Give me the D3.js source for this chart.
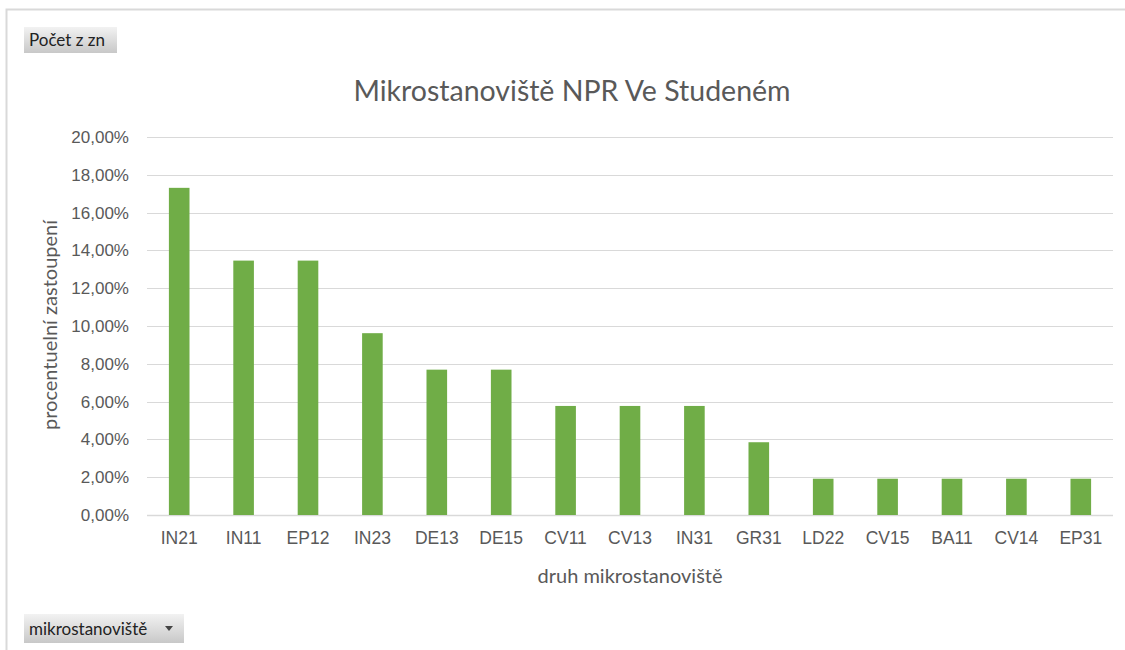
<!DOCTYPE html>
<html>
<head>
<meta charset="utf-8">
<script src="https://cdn.jsdelivr.net/npm/d3@7"></script>
<style>
  body { margin: 0; background: #fff; }
  svg { display: block; font-family: Lato, "Open Sans", sans-serif; }
</style>
</head>
<body>
<svg id="drawing_region"></svg>
<script>
// data
const categories = ["IN21", "IN11", "EP12", "IN23", "DE13", "DE15", "CV11", "CV13", "IN31", "GR31", "LD22", "CV15", "BA11", "CV14", "EP31"];
const values = [17.31, 13.46, 13.46, 9.62, 7.69, 7.69, 5.77, 5.77, 5.77, 3.85, 1.92, 1.92, 1.92, 1.92, 1.92];
const yTicks = [0, 2, 4, 6, 8, 10, 12, 14, 16, 18, 20];

const width = 1125, height = 650;
const margin = { top: 137, right: 12, bottom: 135, left: 147 };
const innerW = width - margin.left - margin.right;
const innerH = height - margin.top - margin.bottom;

const svg = d3.select('#drawing_region')
    .attr('width', width)
    .attr('height', height);

// chart frame
svg.append('path')
    .attr('d', 'M6.5,650 L6.5,9.5 L1125,9.5')
    .attr('fill', 'none')
    .attr('stroke', '#d9d9d9')
    .attr('stroke-width', 2);

// button gradient
const grad = svg.append('defs').append('linearGradient')
    .attr('id', 'btn').attr('x1', 0).attr('y1', 0).attr('x2', 0).attr('y2', 1);
grad.append('stop').attr('offset', '0%').attr('stop-color', '#f2f2f2');
grad.append('stop').attr('offset', '100%').attr('stop-color', '#c8c8c8');

const chart = svg.append('g')
    .attr('transform', `translate(${margin.left}, ${margin.top})`);

const xscale = d3.scaleBand()
    .domain(categories)
    .range([0, innerW])
    .paddingInner(0.68)
    .paddingOuter(0.34);

const yscale = d3.scaleLinear()
    .domain([0, 20])
    .range([innerH, 0]);

// gridlines
chart.append('g')
    .selectAll('line')
    .data(yTicks)
    .join('line')
    .attr('x1', 0)
    .attr('x2', innerW)
    .attr('y1', d => Math.round(yscale(d)) + 0.5)
    .attr('y2', d => Math.round(yscale(d)) + 0.5)
    .attr('stroke', '#d9d9d9')
    .attr('stroke-width', d => d === 0 ? 1.5 : 1);

// bars
chart.selectAll('rect.bar')
    .data(values)
    .join('rect')
    .attr('class', 'bar')
    .attr('x', (d, i) => xscale(categories[i]))
    .attr('y', d => yscale(d))
    .attr('width', xscale.bandwidth())
    .attr('height', d => innerH - yscale(d))
    .attr('fill', '#70ad47');

// y axis
const yAxis = chart.append('g')
    .call(d3.axisLeft(yscale).tickValues(yTicks).tickSize(0).tickPadding(18)
        .tickFormat(d => d.toFixed(2).replace('.', ',') + '%'));
yAxis.select('.domain').remove();
yAxis.selectAll('text')
    .attr('fill', '#595959')
    .style('font-size', '17px');

// x axis
const xAxis = chart.append('g')
    .attr('transform', `translate(0, ${innerH})`)
    .call(d3.axisBottom(xscale).tickSize(0).tickPadding(17));
xAxis.select('.domain').remove();
xAxis.selectAll('text')
    .attr('fill', '#595959')
    .style('font-size', '17.5px');

// title
svg.append('text')
    .attr('x', 572)
    .attr('y', 101)
    .attr('text-anchor', 'middle')
    .attr('fill', '#595959')
    .style('font-size', '28.5px')
    .text('Mikrostanoviště NPR Ve Studeném');

// axis titles
svg.append('text')
    .attr('x', 630)
    .attr('y', 583)
    .attr('text-anchor', 'middle')
    .attr('fill', '#595959')
    .style('font-size', '20px')
    .text('druh mikrostanoviště');

svg.append('text')
    .attr('transform', 'translate(57, 325) rotate(-90)')
    .attr('text-anchor', 'middle')
    .attr('fill', '#595959')
    .style('font-size', '20px')
    .text('procentuelní zastoupení');

// field buttons
svg.append('rect')
    .attr('x', 24).attr('y', 27).attr('width', 93).attr('height', 26)
    .attr('fill', 'url(#btn)');
svg.append('text')
    .attr('x', 29).attr('y', 46)
    .attr('fill', '#222')
    .style('font-size', '17px')
    .text('Počet z zn');

svg.append('rect')
    .attr('x', 24).attr('y', 614).attr('width', 160).attr('height', 29)
    .attr('fill', 'url(#btn)');
svg.append('text')
    .attr('x', 29).attr('y', 635)
    .attr('fill', '#222')
    .style('font-size', '17px')
    .text('mikrostanoviště');
svg.append('path')
    .attr('d', 'M165,626 L173,626 L169,631 Z')
    .attr('fill', '#444');
</script>
</body>
</html>
